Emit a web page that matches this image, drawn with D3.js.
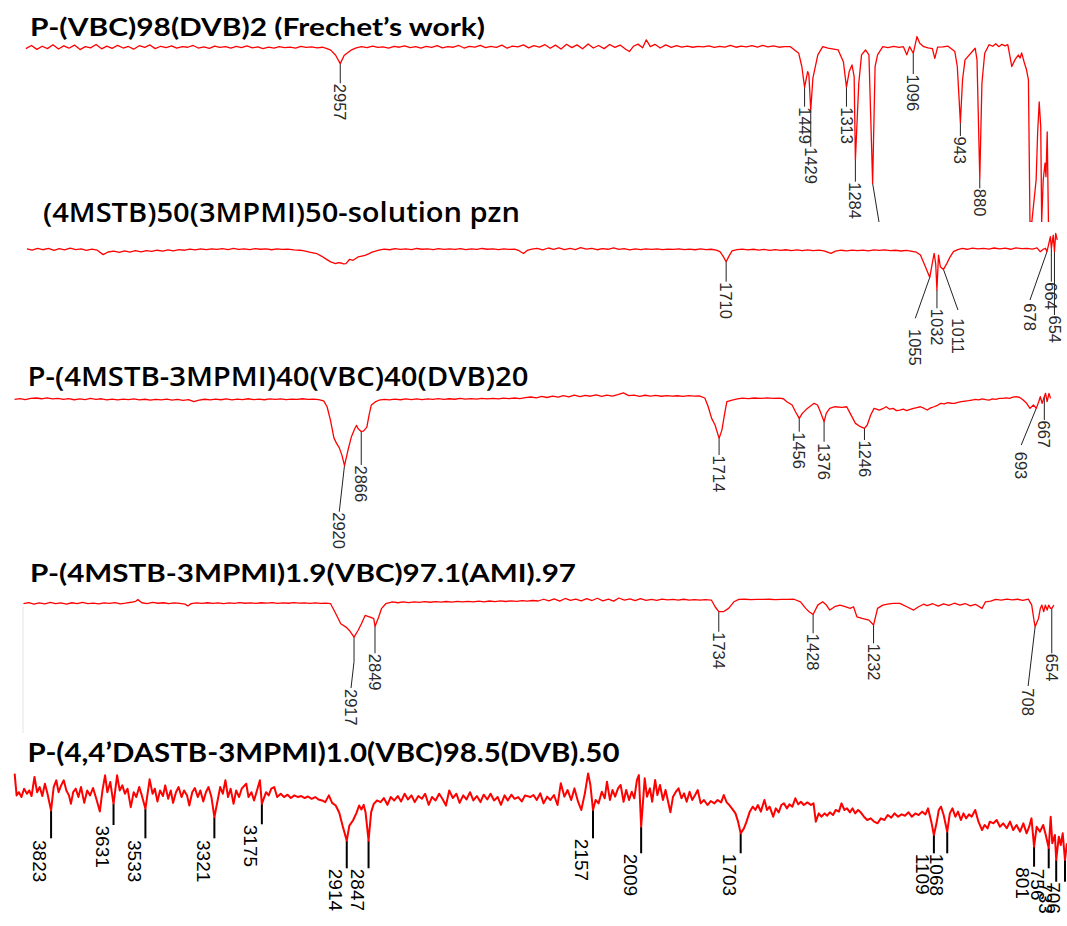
<!DOCTYPE html>
<html>
<head>
<meta charset="utf-8">
<script src="https://cdn.jsdelivr.net/npm/d3@7"></script>
<style>
  html, body { margin: 0; padding: 0; background: #fff; }
  svg { display: block; }
</style>
</head>
<body>
<svg id="chart" width="1067" height="926"></svg>
<script>
// ---- Spectra: [wavenumber (cm-1), transmittance (%)] ----
const p1Spectrum = [
  [3978,85.0],[3960,86.6],[3942,84.6],[3925,86.2],[3908,85.0],[3890,87.0],[3872,84.8],[3855,86.4],[3838,85.2],[3820,86.8],
  [3802,84.5],[3785,86.0],[3768,85.4],[3750,87.1],[3732,84.9],[3715,86.3],[3698,85.1],[3680,86.7],[3662,85.3],[3645,86.1],
  [3628,84.7],[3610,86.5],[3592,85.6],[3575,86.9],[3558,85.0],[3540,86.2],[3522,85.5],[3505,86.4],[3488,85.2],[3470,86.0],
  [3452,85.7],[3435,86.6],[3418,85.3],[3400,85.9],[3382,85.1],[3365,86.3],[3348,85.6],[3330,86.0],[3312,85.2],[3295,86.1],
  [3278,85.5],[3260,86.4],[3242,85.4],[3225,85.9],[3208,85.0],[3190,85.8],[3172,85.3],[3155,86.0],[3138,85.5],[3120,85.8],
  [3102,85.2],[3085,86.1],[3068,85.6],[3050,85.9],[3032,85.4],[3015,85.7],[3000,85.0],[2988,84.2],[2972,81.6],[2957,77.3],
  [2944,81.6],[2922,84.2],[2905,85.4],[2888,86.0],[2870,85.5],[2852,86.3],[2835,85.6],[2818,85.9],[2800,85.3],[2782,86.2],
  [2765,85.7],[2748,86.4],[2730,85.5],[2712,86.0],[2695,85.2],[2678,86.1],[2660,85.6],[2642,86.5],[2625,85.4],[2608,86.0],
  [2590,85.7],[2572,86.6],[2555,85.3],[2538,86.2],[2520,85.8],[2502,86.7],[2485,85.5],[2468,86.1],[2450,85.6],[2432,86.8],
  [2415,85.2],[2398,86.3],[2380,85.9],[2362,86.9],[2345,85.4],[2328,86.5],[2310,85.8],[2292,87.0],[2275,85.2],[2258,86.8],
  [2240,84.8],[2222,87.2],[2205,85.5],[2188,86.9],[2170,84.9],[2152,87.4],[2135,85.3],[2118,86.6],[2100,85.0],[2082,87.1],
  [2065,85.6],[2048,86.8],[2030,84.7],[2018,83.5],[2005,86.2],[1990,87.3],[1975,85.4],[1963,89.5],[1950,86.0],[1935,87.2],
  [1918,85.3],[1900,86.9],[1882,85.6],[1865,86.5],[1848,85.8],[1830,86.3],[1812,85.7],[1795,86.1],[1778,85.9],[1760,86.4],
  [1742,85.6],[1725,86.2],[1708,85.8],[1690,86.6],[1672,85.7],[1655,86.3],[1638,85.9],[1620,86.5],[1602,85.8],[1585,86.7],
  [1568,85.9],[1550,86.4],[1532,85.7],[1515,86.0],[1495,86.0],[1468,82.6],[1458,75.8],[1449,65.2],[1439,73.2],[1435,71.5],
  [1429,53.5],[1422,69.8],[1406,81.8],[1390,86.0],[1373,85.2],[1340,84.3],[1323,78.3],[1313,65.2],[1304,73.2],[1295,76.6],
  [1288,70.6],[1284,27.8],[1273,67.2],[1264,81.8],[1251,84.3],[1240,81.8],[1228,15.8],[1220,75.8],[1212,81.8],[1195,86.0],
  [1178,85.5],[1160,86.2],[1142,85.6],[1128,86.0],[1117,81.8],[1108,86.0],[1096,82.6],[1084,91.2],[1075,87.8],[1062,86.0],
  [1048,85.4],[1034,85.0],[1026,80.0],[1017,85.8],[1000,85.9],[984,86.3],[961,83.5],[953,75.8],[943,47.0],[936,69.0],
  [928,79.2],[900,84.3],[895,85.2],[889,79.2],[880,18.4],[873,67.2],[864,82.6],[850,87.0],[838,86.2],[828,87.5],
  [818,86.0],[808,87.2],[798,86.4],[789,87.0],[776,75.8],[766,79.2],[755,81.7],[749,80.2],[744,82.8],[736,78.1],
  [728,74.0],[722,68.9],[717,-4],[711,-4],[697,17.5],[692,42.2],[687,57.6],[682,44.8],[679,-4],[674,17.5],
  [668,26.2],[665,19.2],[661,42.2],[657,-4]
];

const p2Spectrum = [
  [3959,80.5],[3942,79.2],[3925,81.0],[3908,79.5],[3890,80.8],[3872,78.9],[3855,80.6],[3838,79.4],[3820,81.2],[3802,79.6],
  [3785,80.4],[3768,78.8],[3750,80.2],[3733,79.0],[3714,74.5],[3698,77.2],[3680,78.0],[3662,76.8],[3645,78.3],[3628,77.1],
  [3610,78.5],[3592,77.4],[3575,78.6],[3558,77.9],[3540,79.0],[3522,78.1],[3505,79.3],[3488,78.4],[3470,79.6],[3452,79.0],
  [3435,80.1],[3418,79.3],[3400,80.4],[3382,79.6],[3365,80.5],[3348,79.8],[3330,80.6],[3312,79.7],[3295,80.8],[3278,79.9],
  [3260,80.5],[3242,79.6],[3225,80.7],[3208,80.0],[3190,80.4],[3172,79.5],[3155,80.3],[3138,79.8],[3120,80.2],[3100,79.4],
  [3080,79.0],[3071,78.6],[3050,77.0],[3027,75.6],[3012,73.0],[2999,70.4],[2982,67.0],[2966,65.2],[2958,66.2],[2949,65.9],
  [2941,64.9],[2933,65.2],[2921,69.7],[2910,68.7],[2894,72.1],[2882,73.0],[2872,73.8],[2860,75.2],[2849,77.0],[2838,78.1],
  [2827,79.0],[2810,80.2],[2792,79.5],[2775,80.6],[2758,79.8],[2740,80.4],[2722,79.7],[2705,80.8],[2688,80.0],[2670,80.5],
  [2652,79.6],[2635,80.7],[2618,79.9],[2600,80.4],[2582,79.8],[2565,80.6],[2548,79.7],[2530,80.3],[2512,79.9],[2495,80.8],
  [2478,80.0],[2460,80.5],[2442,79.6],[2425,80.4],[2408,79.9],[2390,80.2],[2376,78.5],[2362,75.6],[2350,78.8],[2335,80.2],
  [2318,81.0],[2300,79.4],[2282,81.3],[2265,80.0],[2248,81.5],[2230,79.6],[2212,80.9],[2195,79.7],[2178,81.6],[2160,80.2],
  [2142,81.0],[2125,79.5],[2108,80.7],[2090,80.0],[2072,81.4],[2055,79.8],[2038,80.6],[2020,79.4],[2002,80.3],[1985,79.6],
  [1968,80.5],[1950,79.9],[1932,80.4],[1915,79.6],[1898,80.2],[1880,79.8],[1862,80.5],[1845,79.7],[1828,80.1],[1810,79.5],
  [1792,80.3],[1775,79.6],[1758,80.0],[1742,79.2],[1730,77.5],[1720,73.0],[1710,67.2],[1700,73.5],[1691,78.4],[1675,79.6],
  [1658,80.2],[1640,79.4],[1622,80.0],[1605,79.1],[1588,79.8],[1570,78.9],[1552,79.6],[1535,78.8],[1518,79.5],[1500,78.6],
  [1482,79.3],[1465,78.7],[1448,79.4],[1430,78.5],[1412,79.2],[1395,78.4],[1373,75.7],[1358,78.0],[1340,79.0],[1322,78.3],
  [1305,79.2],[1288,78.5],[1270,79.1],[1252,78.4],[1235,79.3],[1218,78.8],[1200,79.4],[1182,78.5],[1165,79.0],[1148,78.2],
  [1130,78.9],[1112,77.8],[1098,77.0],[1085,74.0],[1069,62.0],[1055,51.1],[1047,65.5],[1041,75.8],[1036,65.0],[1032,38.1],
  [1027,74.0],[1021,62.0],[1011,59.3],[1000,65.5],[990,72.0],[979,77.5],[965,79.6],[950,80.8],[935,80.0],[918,81.2],
  [900,80.4],[882,81.0],[865,80.2],[848,81.3],[830,80.5],[812,81.1],[795,80.0],[778,81.4],[760,80.6],[742,81.0],
  [725,80.2],[710,81.5],[700,77.5],[690,80.0],[683,81.0],[678,77.5],[672,86.0],[667,93.0],[664,81.0],[658,94.6],
  [654,77.5],[650,96.3],[645,89.5]
];

const p3Spectrum = [
  [3982,79.6],[3965,80.4],[3948,79.2],[3930,80.6],[3912,81.0],[3895,80.2],[3878,81.2],[3860,80.0],[3842,80.7],[3825,79.5],
  [3808,80.3],[3790,79.2],[3772,80.0],[3755,79.4],[3738,80.5],[3720,79.6],[3702,80.2],[3685,79.1],[3668,79.8],[3650,79.0],
  [3632,79.9],[3615,79.3],[3598,80.1],[3580,79.0],[3562,79.7],[3545,78.8],[3528,79.6],[3510,79.0],[3492,79.8],[3475,78.9],
  [3458,79.5],[3440,78.6],[3422,79.4],[3405,77.2],[3388,78.9],[3370,79.7],[3352,79.0],[3335,79.8],[3318,79.2],[3300,80.0],
  [3282,79.1],[3265,79.9],[3248,79.4],[3230,80.2],[3212,79.3],[3195,79.8],[3178,79.2],[3160,80.0],[3142,79.6],[3125,80.1],
  [3108,79.3],[3090,79.9],[3072,79.5],[3055,80.2],[3038,79.6],[3020,79.9],[3003,79.3],[2987,78.0],[2976,72.0],[2965,58.0],
  [2954,40.0],[2945,34.0],[2937,30.0],[2928,22.0],[2920,11.5],[2909,27.0],[2898,40.8],[2887,49.4],[2881,52.8],[2876,49.4],
  [2866,46.6],[2859,47.0],[2848,51.1],[2841,63.2],[2834,73.5],[2821,77.0],[2809,78.7],[2792,79.5],[2775,79.0],[2758,79.8],
  [2740,79.2],[2722,80.0],[2705,79.4],[2688,80.1],[2670,79.3],[2652,80.0],[2635,79.5],[2618,80.3],[2600,79.6],[2582,80.2],
  [2565,79.7],[2548,80.5],[2530,79.8],[2512,80.4],[2495,79.9],[2478,80.6],[2460,80.0],[2442,80.7],[2425,80.1],[2408,80.9],
  [2390,80.3],[2372,81.0],[2355,80.4],[2338,81.3],[2320,82.0],[2302,81.2],[2285,82.6],[2268,81.5],[2250,83.0],[2232,81.8],
  [2215,83.4],[2198,82.2],[2180,84.0],[2162,82.5],[2145,83.6],[2128,82.8],[2110,84.2],[2092,82.6],[2075,83.9],[2058,82.9],
  [2040,84.4],[2022,86.2],[2005,83.5],[1988,84.0],[1970,82.7],[1952,83.8],[1935,82.9],[1918,83.6],[1900,82.8],[1882,83.5],
  [1865,83.0],[1848,83.3],[1830,82.7],[1812,83.4],[1795,82.9],[1778,83.2],[1760,81.0],[1749,72.0],[1738,60.0],[1727,53.2],
  [1714,39.5],[1705,48.0],[1696,65.2],[1689,77.2],[1672,78.9],[1655,80.0],[1639,80.8],[1620,80.3],[1600,81.0],[1580,80.5],
  [1560,81.2],[1540,80.6],[1520,80.9],[1507,80.2],[1496,77.2],[1479,73.8],[1468,66.9],[1456,60.0],[1446,65.2],[1430,70.3],
  [1408,75.5],[1397,73.8],[1388,66.9],[1376,56.6],[1369,65.2],[1358,70.3],[1341,72.0],[1319,71.4],[1303,72.0],[1292,65.2],
  [1275,54.9],[1259,51.5],[1246,49.8],[1237,53.2],[1226,63.5],[1215,70.3],[1198,68.6],[1187,70.0],[1176,72.0],[1165,69.5],
  [1154,70.3],[1143,68.0],[1132,68.6],[1121,69.5],[1110,68.0],[1099,69.2],[1088,70.3],[1077,71.2],[1066,72.0],[1055,70.5],
  [1044,68.6],[1033,70.8],[1022,72.0],[1011,73.5],[1000,75.5],[989,75.0],[978,76.2],[967,75.6],[956,75.5],[945,76.5],
  [934,77.2],[922,77.8],[911,78.2],[900,78.9],[889,79.6],[878,79.0],[867,80.0],[856,79.4],[845,78.9],[834,80.1],
  [823,79.6],[812,80.5],[801,80.6],[790,81.2],[779,80.7],[768,81.8],[757,82.3],[746,81.5],[735,78.9],[724,75.5],
  [713,70.3],[702,73.8],[693,70.3],[685,77.2],[680,82.3],[674,75.5],[667,82.3],[663,85.8],[658,77.2],[652,85.8],
  [647,80.6]
];

const p4Spectrum = [
  [3989,75.0],[3972,76.2],[3955,74.6],[3938,75.8],[3920,74.9],[3902,76.3],[3885,75.1],[3868,75.9],[3850,74.7],[3832,76.0],
  [3815,75.2],[3798,76.4],[3780,75.0],[3762,75.7],[3745,74.8],[3728,75.9],[3710,75.3],[3692,76.1],[3675,74.9],[3658,75.6],
  [3640,76.5],[3625,77.5],[3618,79.2],[3605,76.0],[3588,75.2],[3570,76.3],[3552,75.5],[3535,76.0],[3518,75.0],[3500,75.8],
  [3482,75.4],[3465,74.6],[3456,72.7],[3445,75.1],[3428,75.9],[3410,75.3],[3392,76.0],[3375,75.4],[3358,75.8],[3340,75.1],
  [3322,75.9],[3305,75.4],[3288,76.1],[3270,75.5],[3252,75.9],[3235,75.3],[3218,76.0],[3200,75.6],[3182,76.2],[3165,75.4],
  [3148,75.9],[3130,75.5],[3112,76.1],[3095,75.6],[3078,75.9],[3060,75.3],[3042,75.8],[3025,75.4],[3008,75.6],[2993,75.0],
  [2976,64.7],[2960,54.4],[2943,51.0],[2932,47.5],[2917,40.6],[2904,47.5],[2893,54.4],[2881,63.0],[2865,61.3],[2853,59.6],
  [2849,51.6],[2837,61.3],[2828,69.9],[2814,75.0],[2792,76.8],[2775,76.0],[2758,76.9],[2740,76.2],[2722,77.0],[2705,76.4],
  [2688,77.1],[2670,76.5],[2652,77.2],[2635,76.6],[2618,77.3],[2600,76.7],[2582,77.4],[2565,76.8],[2548,77.5],[2530,76.9],
  [2512,77.6],[2495,77.0],[2478,77.8],[2460,77.1],[2442,77.9],[2425,77.3],[2408,78.0],[2390,77.4],[2372,78.1],[2355,77.6],
  [2338,78.3],[2320,77.8],[2302,79.6],[2285,78.0],[2268,79.9],[2250,77.6],[2232,80.4],[2215,78.5],[2198,79.7],[2180,77.9],
  [2162,80.2],[2145,78.3],[2128,80.6],[2110,78.0],[2092,79.8],[2075,77.7],[2058,80.9],[2040,78.6],[2022,79.9],[2005,78.2],
  [1988,80.3],[1970,78.5],[1952,79.5],[1935,78.4],[1918,79.7],[1900,78.9],[1882,79.4],[1865,78.6],[1848,79.6],[1830,78.8],
  [1812,79.3],[1795,78.7],[1778,79.2],[1758,78.8],[1746,71.9],[1734,66.8],[1719,66.8],[1702,70.2],[1685,77.0],[1669,79.4],
  [1650,79.6],[1630,79.2],[1610,79.5],[1590,79.4],[1570,79.6],[1550,79.3],[1530,79.5],[1510,79.4],[1490,79.6],[1469,77.0],
  [1452,70.2],[1441,66.8],[1428,64.0],[1413,73.6],[1397,77.0],[1385,73.6],[1374,68.5],[1358,71.9],[1341,73.6],[1324,71.9],
  [1308,70.2],[1297,71.9],[1286,61.6],[1269,59.9],[1247,58.2],[1232,53.1],[1219,70.2],[1202,73.6],[1186,74.5],[1169,75.3],
  [1147,75.3],[1124,71.9],[1102,68.5],[1086,71.9],[1070,74.5],[1058,73.0],[1040,75.0],[1022,72.5],[1005,74.8],[988,73.2],
  [970,75.5],[952,73.6],[935,75.2],[918,72.8],[902,74.4],[880,70.2],[869,77.0],[852,77.6],[836,79.4],[818,78.6],
  [800,79.8],[782,78.9],[765,79.6],[748,78.5],[730,79.7],[719,73.6],[711,56.5],[708,51.4],[697,59.9],[691,70.2],
  [686,73.6],[680,66.8],[675,73.6],[669,68.5],[664,73.6],[658,70.2],[654,70.2],[647,73.6]
];

const p5Spectrum = [
  [3935,85.0],[3929,62.7],[3922,66.0],[3914,61.0],[3906,69.6],[3897,64.4],[3890,67.8],[3883,62.0],[3874,81.6],[3866,66.0],
  [3858,71.3],[3850,62.0],[3842,74.7],[3834,64.4],[3823,47.2],[3815,71.3],[3807,78.2],[3800,66.0],[3792,73.0],[3784,78.2],
  [3776,67.8],[3768,62.7],[3762,54.0],[3755,66.0],[3747,69.6],[3739,61.0],[3731,71.3],[3721,55.0],[3712,67.8],[3703,62.7],
  [3694,70.3],[3684,59.2],[3673,46.2],[3665,67.8],[3657,83.3],[3650,66.0],[3641,76.5],[3635,62.7],[3631,54.0],[3620,83.3],
  [3612,67.8],[3604,73.0],[3596,64.4],[3588,69.6],[3578,50.6],[3569,66.0],[3561,61.0],[3552,71.3],[3544,62.7],[3533,48.9],
  [3520,79.2],[3511,64.4],[3504,69.6],[3496,56.5],[3488,67.8],[3479,62.0],[3472,73.0],[3463,59.2],[3455,67.8],[3448,55.0],
  [3439,66.0],[3431,71.3],[3422,61.0],[3414,67.8],[3405,62.7],[3398,52.3],[3389,66.0],[3381,70.3],[3372,61.0],[3364,67.8],
  [3355,56.5],[3347,66.0],[3339,71.3],[3330,61.0],[3321,40.3],[3303,71.3],[3295,64.4],[3287,78.2],[3279,61.0],[3271,69.6],
  [3262,54.0],[3254,67.8],[3245,61.0],[3237,69.6],[3223,74.7],[3216,61.0],[3207,66.0],[3199,57.5],[3190,67.8],[3181,78.2],
  [3175,54.0],[3162,66.0],[3154,62.7],[3146,69.6],[3137,71.3],[3128,61.0],[3117,64.4],[3107,61.0],[3096,63.4],[3086,60.0],
  [3075,62.7],[3064,61.0],[3054,62.0],[3043,60.0],[3033,61.6],[3022,59.2],[3011,61.0],[3001,58.5],[2990,57.5],[2980,55.8],
  [2969,62.7],[2959,55.0],[2948,52.3],[2937,44.8],[2927,31.7],[2914,16.2],[2906,31.7],[2895,36.9],[2884,44.8],[2876,52.3],
  [2869,48.2],[2862,53.0],[2856,44.8],[2847,16.2],[2839,45.5],[2831,54.0],[2821,57.5],[2810,55.8],[2800,60.0],[2789,53.0],
  [2779,61.0],[2768,57.5],[2757,62.0],[2747,56.5],[2736,64.4],[2726,58.5],[2715,62.7],[2705,55.8],[2694,62.0],[2683,59.2],
  [2673,64.4],[2662,53.0],[2652,61.0],[2641,57.5],[2630,64.4],[2620,59.2],[2609,52.3],[2599,67.8],[2588,60.0],[2577,64.4],
  [2567,55.0],[2556,62.7],[2546,58.5],[2535,66.0],[2525,57.5],[2514,62.0],[2503,55.8],[2493,63.4],[2482,58.5],[2472,64.4],
  [2461,57.5],[2450,61.0],[2440,53.0],[2429,62.7],[2419,57.5],[2408,63.4],[2398,59.2],[2387,61.0],[2376,56.5],[2366,62.7],
  [2350,61.0],[2340,63.1],[2330,58.0],[2319,64.8],[2309,54.5],[2298,61.4],[2288,58.0],[2277,63.1],[2266,52.8],[2256,75.1],
  [2245,61.4],[2235,68.2],[2224,58.0],[2214,69.9],[2203,56.2],[2193,47.7],[2182,64.8],[2172,85.3],[2165,73.4],[2157,47.7],
  [2149,58.0],[2140,54.5],[2130,66.5],[2121,59.7],[2114,76.8],[2105,58.0],[2097,68.2],[2089,61.4],[2080,69.9],[2072,73.4],
  [2063,56.2],[2055,68.2],[2046,58.0],[2038,66.5],[2030,59.7],[2022,78.5],[2016,83.6],[2009,30.5],[1998,80.2],[1991,61.4],
  [1982,69.9],[1975,56.2],[1966,78.5],[1959,63.1],[1951,73.4],[1942,58.0],[1934,68.2],[1926,56.2],[1919,45.3],[1911,61.4],
  [1902,66.5],[1894,69.9],[1885,59.7],[1877,64.8],[1869,56.2],[1860,66.5],[1852,58.0],[1843,63.1],[1835,68.2],[1826,54.5],
  [1816,58.0],[1805,52.8],[1795,56.9],[1784,54.5],[1774,58.0],[1763,55.5],[1755,63.1],[1746,55.5],[1738,52.8],[1730,49.4],
  [1719,44.2],[1711,35.7],[1703,23.7],[1693,28.8],[1685,35.7],[1675,46.0],[1666,51.1],[1658,47.7],[1650,52.8],[1641,46.0],
  [1630,58.0],[1622,47.7],[1614,51.1],[1603,40.8],[1595,49.4],[1586,45.3],[1578,52.8],[1570,54.5],[1561,49.4],[1553,53.5],
  [1544,51.1],[1535,59.7],[1526,53.5],[1518,56.2],[1509,52.8],[1498,55.5],[1487,52.8],[1479,54.5],[1472,35.7],[1463,44.2],
  [1455,40.8],[1445,44.2],[1437,41.8],[1429,45.3],[1419,42.5],[1411,47.7],[1401,46.0],[1393,54.5],[1384,47.7],[1376,49.4],
  [1367,45.3],[1359,49.4],[1351,44.2],[1342,47.7],[1334,45.3],[1324,40.8],[1314,37.4],[1303,39.1],[1293,35.7],[1282,34.0],
  [1272,39.1],[1261,37.4],[1251,42.5],[1240,39.8],[1230,44.2],[1219,40.8],[1208,43.2],[1198,41.8],[1187,45.3],[1177,40.8],
  [1166,44.2],[1156,42.5],[1145,46.0],[1135,43.2],[1127,49.4],[1117,35.7],[1109,22.0],[1101,34.0],[1094,47.7],[1087,51.1],
  [1079,42.5],[1068,25.4],[1060,44.2],[1052,49.4],[1043,40.8],[1035,46.0],[1026,37.4],[1018,44.2],[1010,39.1],[1001,43.2],
  [993,40.8],[982,47.7],[972,35.7],[961,27.1],[953,32.3],[944,28.8],[937,35.7],[926,34.0],[916,37.4],[906,30.5],
  [896,34.0],[885,28.9],[875,35.7],[865,27.1],[855,32.3],[844,25.4],[834,34.0],[824,23.7],[816,30.5],[809,39.1],
  [801,10.0],[793,30.5],[783,25.4],[773,32.3],[765,22.0],[756,8.6],[750,40.8],[745,13.5],[737,22.0],[733,-3.7],
  [725,20.2],[719,11.7],[713,23.7],[706,-3.7],[700,13.5]
];

// ---- Peak positions picked on each spectrum (cm-1) ----
const p1Peaks = [2957, 1449, 1429, 1313, 1284, 1228, 1096, 943, 880];
const p2Peaks = [1710, 1055, 1032, 1011, 678, 664, 654];
const p3Peaks = [2920, 2866, 1714, 1456, 1376, 1246, 693, 667];
const p4Peaks = [2917, 2849, 1734, 1428, 1232, 708, 654];
const p5Peaks = [3823, 3631, 3533, 3321, 3175, 2914, 2847, 2157, 2009, 1703, 1109, 1068, 801, 756, 733, 706];

// ---- Panel titles ----
const titles = [
  "P-(VBC)98(DVB)2 (Frechet\u2019s work)",
  "(4MSTB)50(3MPMI)50-solution pzn",
  "P-(4MSTB-3MPMI)40(VBC)40(DVB)20",
  "P-(4MSTB-3MPMI)1.9(VBC)97.1(AMI).97",
  "P-(4,4\u2019DASTB-3MPMI)1.0(VBC)98.5(DVB).50"
];

// ---- Layout (pixels) ----
// title: [x, baseline, width, font size, weight]
const titleLayout = [
  [30, 36, 455, 24, 700],
  [43, 221.5, 477, 27, 600],
  [27.5, 386, 501, 27, 600],
  [30, 581.5, 546, 24, 700],
  [27.5, 761.5, 592, 26, 700]
];
// plotting frame of each spectrum: x range for 4000..650 cm-1, y range for 0..100 %T
const frames = [
  { xr: [19.1, 1050.6], yr: [214.1, 19.4], clip: [0, 222] },
  { xr: [14.2, 1055.7], yr: [327.1, 229.8], clip: null },
  { xr: [9.0, 1049.6],  yr: [476.8, 379.5], clip: null },
  { xr: [20.1, 1053.0], yr: [676.7, 579.4], clip: null },
  { xr: [-6.5, 1083.2], yr: [856.4, 759.1], clip: null }
];
// leader geometry per peak: [bend y (null = start at trough), end dx, end y, label top y]
const p1Leaders = [[null,0,83.3,83.8],[null,0,106.7,107.2],[null,0,146.7,147.2],[null,0,106.7,107.2],
  [null,0,181.7,182.2],[null,6.7,224,226],[null,0,74,74.5],[null,0,136,136.5],[null,0,188.3,188.8]];
const p2Leaders = [[null,0,281.7,282.2],[null,-14.5,318.3,329],[null,0,308.3,308.8],[null,14.5,310,318.3],
  [null,-17,300,303.3],[null,0,281.7,282.2],[null,0,315,315.5]];
const p3Leaders = [[null,-5.2,511.7,512.2],[null,0,465,465.5],[null,0,455,455.5],[null,0,431.7,432.2],
  [null,0,441.7,443.3],[null,0,440,440.5],[null,-15,445,451.7],[null,0,420,420.5]];
const p4Leaders = [[661.7,-3,688,689],[null,0,653.3,653.8],[null,0,631.7,632.2],[null,0,633.3,633.8],
  [null,0,643.3,643.8],[null,-7,686,688.3],[null,0,653.3,653.8]];
const p5Leaders = [[null,0,838.3,840],[null,0,825,825.5],[null,0,838.3,840],[null,0,838.3,840],
  [null,0,824.3,824.8],[null,0,868.3,868.8],[null,0,868.3,868.8],[null,0,838.3,838.8],
  [null,0,853.3,853.8],[null,0,853.3,853.8],[null,0,853.3,853.8],[null,0,853.3,853.8],
  [null,0,866.7,867.2],[null,0,868.3,868.8],[null,0,881.7,882.2],[null,0,881.7,882.2]];

const lineStyles = [
  { trace: 1.3, lead: 1, leadColor: "#222", font: 16.5, labelColor: "#2a2a2a", side: "center" },
  { trace: 1.3, lead: 1, leadColor: "#222", font: 16.5, labelColor: "#2a2a2a", side: "center" },
  { trace: 1.3, lead: 1, leadColor: "#222", font: 16.5, labelColor: "#2a2a2a", side: "center" },
  { trace: 1.3, lead: 1, leadColor: "#222", font: 16.5, labelColor: "#2a2a2a", side: "center" },
  { trace: 2.0, lead: 2, leadColor: "#000", font: 19, labelColor: "#000", side: "left" }
];

const spectra = [p1Spectrum, p2Spectrum, p3Spectrum, p4Spectrum, p5Spectrum];
const peakSets = [p1Peaks, p2Peaks, p3Peaks, p4Peaks, p5Peaks];
const leaderSets = [p1Leaders, p2Leaders, p3Leaders, p4Leaders, p5Leaders];

const svg = d3.select("#chart");
svg.append("rect").attr("width", 1067).attr("height", 926).attr("fill", "#fff");

// faint edge of the pasted fourth spectrum
svg.append("line").attr("x1", 23).attr("x2", 23).attr("y1", 607).attr("y2", 733)
  .attr("stroke", "#e4e4e4").attr("stroke-width", 1);

const defs = svg.append("defs");

spectra.forEach((data, i) => {
  const fr = frames[i], st = lineStyles[i];
  const x = d3.scaleLinear().domain([4000, 650]).range(fr.xr);
  const y = d3.scaleLinear().domain([0, 100]).range(fr.yr);

  const g = svg.append("g").attr("class", "panel panel-" + (i + 1));
  if (fr.clip) {
    const id = "clip-" + (i + 1);
    defs.append("clipPath").attr("id", id).append("rect")
      .attr("x", 0).attr("y", fr.clip[0]).attr("width", 1067).attr("height", fr.clip[1] - fr.clip[0]);
    g.attr("clip-path", `url(#${id})`);
  }

  // peak leaders
  const leadLine = d3.line();
  const marks = peakSets[i].map((wn, k) => {
    const [bendY, dx, endY, textY] = leaderSets[i][k];
    const pt = d3.least(data, d => Math.abs(d[0] - wn));
    const xp = x(wn), yp = y(pt[1]);
    return { wn, xp, yp, bendY: bendY == null ? yp : bendY, dx, endY, textY };
  });

  g.append("g").selectAll("path").data(marks).join("path")
    .attr("d", m => leadLine([[m.xp, m.yp], [m.xp, m.bendY], [m.xp + m.dx, m.endY]]))
    .attr("fill", "none")
    .attr("stroke", st.leadColor)
    .attr("stroke-width", st.lead);

  // spectrum trace
  g.append("path")
    .datum(data)
    .attr("d", d3.line().x(d => x(d[0])).y(d => y(d[1])))
    .attr("fill", "none")
    .attr("stroke", "#ff0000")
    .attr("stroke-width", st.trace)
    .attr("stroke-linejoin", "round");

  // peak labels, rotated to read downward
  const capH = 0.716 * st.font;
  g.append("g").selectAll("text").data(marks).join("text")
    .attr("transform", m => `translate(${m.xp + m.dx},${m.textY}) rotate(90)`)
    .attr("x", 0)
    .attr("y", st.side === "left" ? capH + 4 : capH / 2)
    .attr("font-family", "'Liberation Sans', Arial, sans-serif")
    .attr("font-size", st.font)
    .attr("fill", st.labelColor)
    .text(m => m.wn);

  // title
  const [tx, ty, tw, ts, tweight] = titleLayout[i];
  svg.append("text")
    .attr("x", tx).attr("y", ty)
    .attr("font-family", tweight === 700 ? "Lato, 'Open Sans', sans-serif" : "'Open Sans', Lato, sans-serif")
    .attr("font-weight", tweight)
    .attr("font-size", ts)
    .attr("textLength", tw)
    .attr("lengthAdjust", "spacingAndGlyphs")
    .attr("fill", "#000")
    .text(titles[i]);
});
</script>
</body>
</html>
